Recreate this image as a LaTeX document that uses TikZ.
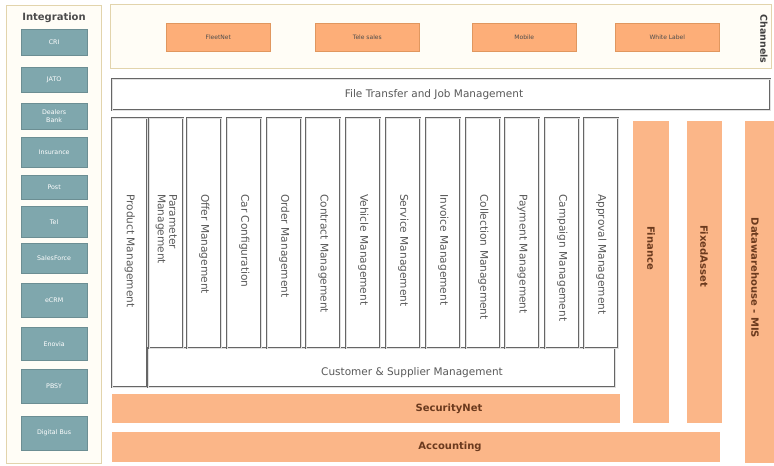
\documentclass[tikz,border=0pt]{standalone}
\usepackage{fontspec}
\setmainfont{DejaVu Sans}
\usepackage{xcolor}
\usetikzlibrary{positioning}

\definecolor{tealbox}{HTML}{7FA7AD}
\definecolor{orangebar}{HTML}{FBB688}
\definecolor{orangebox}{HTML}{FDAE78}
\definecolor{orangeline}{HTML}{E0975F}
\definecolor{tanline}{HTML}{E2D4AC}
\definecolor{cream}{HTML}{FFFDF6}
\definecolor{barfont}{HTML}{6B3A1E}
\definecolor{framegray}{HTML}{666666}

\tikzset{
  panel/.style={draw=tanline, line width=1pt, fill=cream, inner sep=0pt, anchor=north west},
  intbox/.style={fill=tealbox, draw=tealbox!85!black, line width=0.3pt, minimum width=66,
    text=white, font=\fontsize{6.3}{7.3}\selectfont, align=center, inner sep=0pt, anchor=north west},
  chanbox/.style={fill=orangebox, draw=orangeline, line width=0.6pt, minimum width=104,
    minimum height=28, text=black!70, font=\fontsize{6}{7}\selectfont, inner sep=0pt, anchor=north west},
  module/.style={draw=framegray, line width=0.75pt, double=black!12, double distance=0.5pt,
    fill=white, inner sep=0pt, anchor=north west},
  vlabel/.style={rotate=-90, anchor=west, align=left, inner sep=0pt, text=black!65,
    font=\fontsize{10.6}{11.5}\selectfont},
  hlabel/.style={inner sep=0pt, text=black!65, font=\fontsize{10.5}{12}\selectfont},
  bar/.style={fill=orangebar, inner sep=0pt, anchor=north west},
  barlabel/.style={inner sep=0pt, text=barfont, font=\fontsize{10}{12}\selectfont\bfseries},
}

\begin{document}
\begin{tikzpicture}[x=1pt, y=-1pt]

    \useasboundingbox[fill=white] (0,0) rectangle (774,466);

    % integration column
    \node[panel, minimum width=95, minimum height=458] (intg) at (6,5) {};
    \node[font=\fontsize{10}{11}\selectfont\bfseries, text=black!70] (intgt) at (54,18) {Integration};
    \foreach \y/\h/\nm/\txt in {29/26/cri/CRI, 67/25/jato/JATO, 103/26/bank/{Dealers\\Bank},
        137/30/ins/Insurance, 175/24/post/Post, 206/31/tel/Tel, 243/30/sf/SalesForce,
        283/34/ecrm/eCRM, 327/33/enov/Enovia, 369/34/pbsy/PBSY, 416/34/dbus/Digital Bus}
        \node[intbox, minimum height=\h] (\nm) at (21,\y) {\txt};

    % channels
    \node[panel, minimum width=661, minimum height=64] (chan) at (110,4) {};
    \node[rotate=-90, inner sep=0pt, text=black!75, font=\fontsize{9.5}{11}\selectfont\bfseries]
        (chant) at (764,39) {Channels};
    \node[chanbox] (fleet) at (166,23) {FleetNet};
    \node[chanbox] (tele) at (315,23) {Tele sales};
    \node[chanbox] (mob) at (472,23) {Mobile};
    \node[chanbox] (white) at (615,23) {White Label};

    \node[module, minimum width=658, minimum height=31] (ftjm) at (112,79) {};
    \node[hlabel] (ftjmt) at (434,95) {File Transfer and Job Management};

    % business modules
    \node[module, minimum width=35, minimum height=269] (prod) at (112,118) {};
    \node[vlabel] (prodt) at ([yshift=-76pt]prod.north) {Product Management};
    \node[module, minimum width=467, minimum height=39] (cust) at (148,348) {};
    \node[hlabel] (custt) at (412,373) {Customer \& Supplier Management};
    \foreach \i/\x/\txt in {1/149/{Parameter\\Management}, 2/187/Offer Management,
        3/227/Car Configuration, 4/267/Order Management, 5/306/Contract Management,
        6/346/Vehicle Management, 7/386/Service Management, 8/426/Invoice Management,
        9/466/Collection Management, 10/505/Payment Management,
        11/545/Campaign Management, 12/584/Approval Management}
    {
        \node[module, minimum width=34, minimum height=230] (m\i) at (\x,118) {};
        \node[vlabel] (m\i t) at ([yshift=-76pt]m\i.north) {\txt};
    }

    % shared services
    \node[bar, minimum width=36, minimum height=302] (fin) at (633,121) {};
    \node[bar, minimum width=35, minimum height=302] (fix) at (687,121) {};
    \node[bar, minimum width=29, minimum height=342] (dwh) at (745,121) {};
    \node[barlabel, rotate=-90] (fint) at (651,248) {Finance};
    \node[barlabel, rotate=-90] (fixt) at (704,256) {FixedAsset};
    \node[barlabel, rotate=-90] (dwht) at (755,278) {Datawarehouse - MIS};

    \node[bar, minimum width=508, minimum height=29] (sec) at (112,394) {};
    \node[barlabel] (sect) at (449,409) {SecurityNet};
    \node[bar, minimum width=608, minimum height=30] (acc) at (112,432) {};
    \node[barlabel] (acct) at (450,447) {Accounting};

\end{tikzpicture}
\end{document}
